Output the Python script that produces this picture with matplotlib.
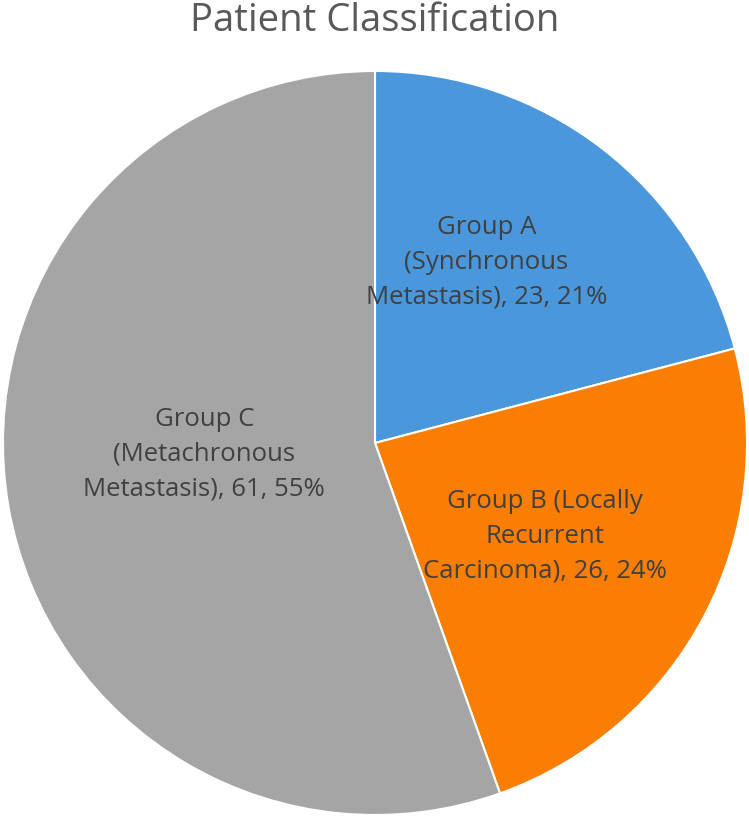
import matplotlib
matplotlib.use("Agg")
import matplotlib.pyplot as plt
import numpy as np

# 病人分類資料
groups = ["Group A\n(Synchronous\nMetastasis)", "Group B (Locally\nRecurrent\nCarcinoma)", "Group C\n(Metachronous\nMetastasis)"]
counts = [23, 26, 61]
colors = ["#4A97DB", "#F97E03", "#A5A5A5"]
label_dist = [0.57, 0.52, 0.46]
label_shift = [6, -1, -6]  # 角度微調

plt.rcParams["font.family"] = ["Open Sans", "DejaVu Sans"]

fig = plt.figure(figsize=(7.49, 8.23), dpi=100)
ax = fig.add_axes([3 / 749, 8 / 823, 744 / 749, 744 / 823])

total = sum(counts)
wedges, _ = ax.pie(counts, colors=colors, startangle=90, counterclock=False,
                   radius=1, wedgeprops=dict(edgecolor="white", linewidth=1.5))

for w, name, n, d, s in zip(wedges, groups, counts, label_dist, label_shift):
    mid = np.deg2rad((w.theta1 + w.theta2) / 2 + s)
    pct = round(n / total * 100)
    ax.text(d * np.cos(mid), d * np.sin(mid), f"{name}, {n}, {pct}%",
            ha="center", va="center", fontsize=18.5, color="#404040", linespacing=1.5)

ax.set_xlim(-1, 1)
ax.set_ylim(-1, 1)
ax.set_aspect("equal")
ax.set_axis_off()

fig.text(0.5, 1 - 31 / 823, "Patient Classification", ha="center", va="baseline",
         fontsize=27.5, color="#595959")

fig.savefig("out.png", dpi=100)
